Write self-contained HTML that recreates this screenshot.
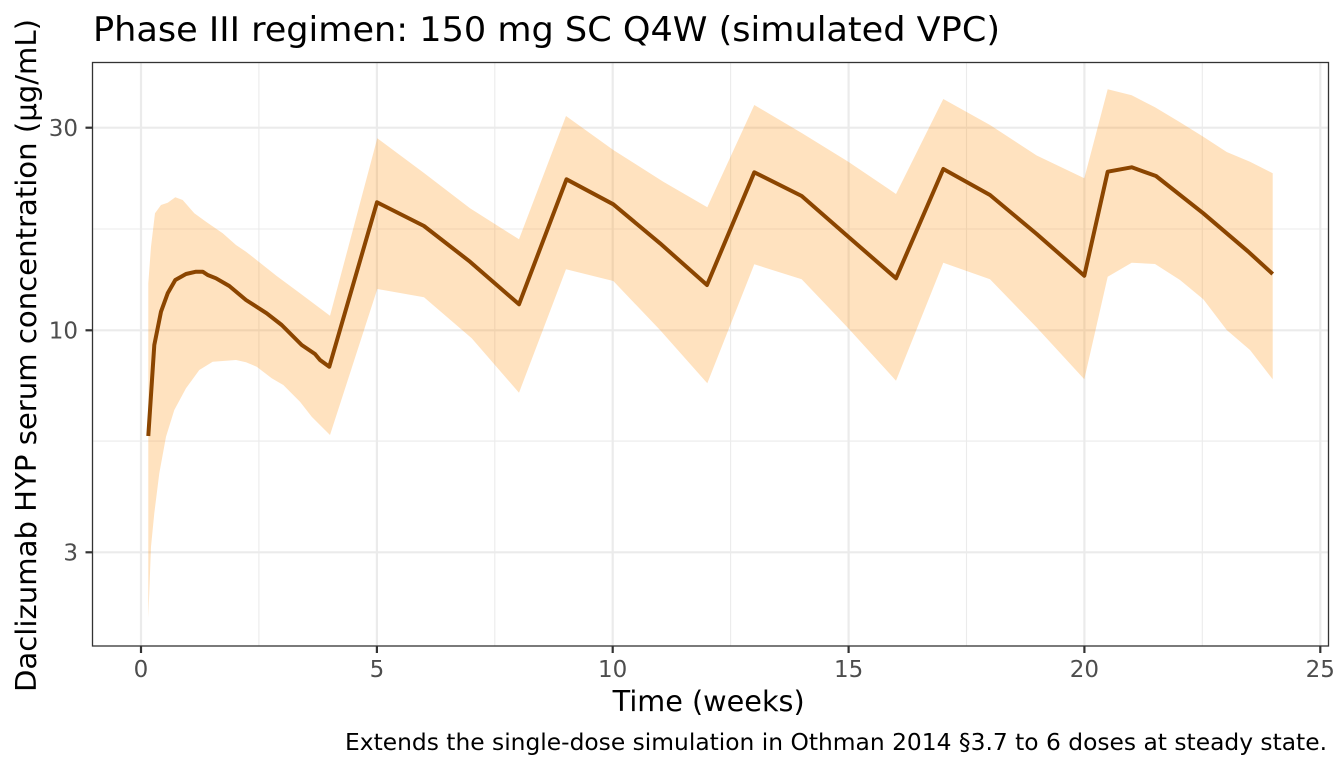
<!DOCTYPE html>
<html>
<head>
<meta charset="utf-8">
<style>
  html, body { margin: 0; padding: 0; background: #ffffff; }
  svg { display: block; }
  text { font-family: "DejaVu Sans", "Liberation Sans", sans-serif; }
</style>
</head>
<body>
<svg width="1344" height="768" viewBox="0 0 1344 768" xmlns="http://www.w3.org/2000/svg">
  <rect x="0" y="0" width="1344" height="768" fill="#ffffff"/>

  <!-- Title -->
  <text x="93" y="41" font-size="34" fill="#000000" textLength="907" lengthAdjust="spacingAndGlyphs">Phase III regimen: 150 mg SC Q4W (simulated VPC)</text>

  <!-- Panel background -->
  <rect x="92.5" y="62.5" width="1236" height="583.5" fill="#ffffff"/>

  <!-- Minor gridlines -->
  <g stroke="#EBEBEB" stroke-width="1.1" fill="none">
    <line x1="92.5" y1="229" x2="1328.5" y2="229"/>
    <line x1="92.5" y1="441.1" x2="1328.5" y2="441.1"/>
    <line x1="258.9" y1="62.5" x2="258.9" y2="646"/>
    <line x1="494.8" y1="62.5" x2="494.8" y2="646"/>
    <line x1="730.6" y1="62.5" x2="730.6" y2="646"/>
    <line x1="966.5" y1="62.5" x2="966.5" y2="646"/>
    <line x1="1202.3" y1="62.5" x2="1202.3" y2="646"/>
  </g>
  <!-- Major gridlines -->
  <g stroke="#EBEBEB" stroke-width="2.2" fill="none">
    <line x1="92.5" y1="127.7" x2="1328.5" y2="127.7"/>
    <line x1="92.5" y1="330.3" x2="1328.5" y2="330.3"/>
    <line x1="92.5" y1="552.3" x2="1328.5" y2="552.3"/>
    <line x1="141" y1="62.5" x2="141" y2="646"/>
    <line x1="376.9" y1="62.5" x2="376.9" y2="646"/>
    <line x1="612.7" y1="62.5" x2="612.7" y2="646"/>
    <line x1="848.6" y1="62.5" x2="848.6" y2="646"/>
    <line x1="1084.4" y1="62.5" x2="1084.4" y2="646"/>
    <line x1="1320.3" y1="62.5" x2="1320.3" y2="646"/>
  </g>

  <!-- Ribbon (90% interval) -->
  <polygon fill="#FF8C00" fill-opacity="0.25" stroke="none" points="
    148.3,283.3 151,246.7 155,213.3 161,205 167.7,202.7 175.3,197.3 182.7,200 194.3,213.3 206,221.7 222.7,233.3 236,245 246,251.7 260,262.7 276.7,276 300,293.3 330,315.7
    377.3,138.3 424,173 470,208.3 519,239.3
    566,116 613.3,150 663.3,181.7 707.3,207.3
    754.3,105 801.7,133 848.3,161.7 896,194
    943.3,99 990,125 1036.7,155.5 1084.3,178.3
    1107.7,89.3 1131.7,95.3 1155,107.3 1180,122.3 1203.3,136.7 1226.7,152 1250,161.7 1272.7,173.3
    1272.7,379.3 1250,350 1226.7,330 1203.3,299.3 1180,280 1155,264 1131.7,262.7 1107.7,276.7
    1084.3,379.3 1036.7,327.5 990,279.3 943.3,262.7
    896,380.7 848.3,328.3 801.7,279.3 754.3,264.3
    707.3,383.3 660,330 613.3,281 566,269.3
    519,392.7 471.7,338.3 424,297.3 377.3,289
    330,435 311.7,416.7 300,401.7 283.3,385 271.7,378.3 256.7,366.7 246,362.3 236,360 222.7,361 212.7,361.7 199.3,370 186,388.3 174.3,410 166,436.7 159.3,473.3 154.3,513.3 151,546.7 148.3,618
  "/>

  <!-- Median line -->
  <polyline fill="none" stroke="#8B4500" stroke-width="4" stroke-linejoin="round" stroke-linecap="butt" points="
    148.3,436 154.3,345 161,311.7 167.7,293.3 175.3,280 186,274 196,271.7 202.7,271.7 207.7,275 216,278.3 229.3,286 246,300 266.7,313.3 281.7,325 301.7,345 315,354 320,360 329.3,366.7
    377,202.3 424,226 470,261.7 519,304.3
    566.5,179.3 613.3,204.3 660,243.3 707,285
    754.3,172.3 801.7,196 848.3,236.7 896,278.3
    943.3,169 990,195 1036.7,234 1084.3,275.7
    1107.7,171.7 1131.7,167.3 1156,176 1203.3,213.3 1248.3,251.7 1272.7,274
  "/>

  <!-- Panel border -->
  <rect x="92.5" y="62.5" width="1236" height="583.5" fill="none" stroke="#333333" stroke-width="1.3"/>

  <!-- Ticks -->
  <g stroke="#333333" stroke-width="2.2">
    <line x1="85.5" y1="127.7" x2="92.5" y2="127.7"/>
    <line x1="85.5" y1="330.3" x2="92.5" y2="330.3"/>
    <line x1="85.5" y1="552.3" x2="92.5" y2="552.3"/>
    <line x1="141" y1="646" x2="141" y2="653"/>
    <line x1="376.9" y1="646" x2="376.9" y2="653"/>
    <line x1="612.7" y1="646" x2="612.7" y2="653"/>
    <line x1="848.6" y1="646" x2="848.6" y2="653"/>
    <line x1="1084.4" y1="646" x2="1084.4" y2="653"/>
    <line x1="1320.3" y1="646" x2="1320.3" y2="653"/>
  </g>

  <!-- Y tick labels -->
  <g font-size="23" fill="#4D4D4D" text-anchor="end">
    <text x="78" y="136">30</text>
    <text x="78" y="338.6">10</text>
    <text x="78" y="560.6">3</text>
  </g>

  <!-- X tick labels -->
  <g font-size="23" fill="#4D4D4D" text-anchor="middle">
    <text x="141" y="677">0</text>
    <text x="376.9" y="677">5</text>
    <text x="612.7" y="677">10</text>
    <text x="848.6" y="677">15</text>
    <text x="1084.4" y="677">20</text>
    <text x="1320.3" y="677">25</text>
  </g>

  <!-- Axis titles -->
  <text x="612.7" y="711" font-size="28.5" fill="#000000" textLength="192" lengthAdjust="spacingAndGlyphs">Time (weeks)</text>
  <text transform="translate(36,692) rotate(-90)" x="0" y="0" font-size="28.5" fill="#000000" textLength="673" lengthAdjust="spacingAndGlyphs">Daclizumab HYP serum concentration (μg/mL)</text>

  <!-- Caption -->
  <text x="345" y="750" font-size="23" fill="#000000" textLength="982" lengthAdjust="spacingAndGlyphs">Extends the single-dose simulation in Othman 2014 §3.7 to 6 doses at steady state.</text>
</svg>
</body>
</html>
